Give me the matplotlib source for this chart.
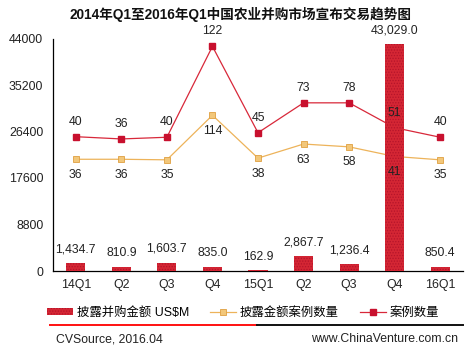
import matplotlib
matplotlib.use("Agg")
import matplotlib.pyplot as plt
from matplotlib.lines import Line2D
from matplotlib.patches import Patch
import numpy as np

quarters = ["14Q1", "Q2", "Q3", "Q4", "15Q1", "Q2", "Q3", "Q4", "16Q1"]
amounts = [1434.7, 810.9, 1603.7, 835.0, 162.9, 2867.7, 1236.4, 43029.0, 850.4]
disclosed_counts = [36, 36, 35, 114, 38, 63, 58, 41, 35]
case_counts = [40, 36, 40, 122, 45, 73, 78, 51, 40]
yticks = [0, 8800, 17600, 26400, 35200, 44000]

title = "2014年Q1至2016年Q1中国农业并购市场宣布交易趋势图"
legend_labels = ["披露并购金额 US$M", "披露金额案例数量", "案例数量"]

FAM = ["Liberation Sans", "Noto Sans CJK SC", "DejaVu Sans"]
plt.rcParams["font.family"] = FAM
plt.rcParams["hatch.linewidth"] = 0.6

BAR = "#D42634"
HATCH = "#B5142A"
RED = "#D8283A"
ORANGE = "#EDB35A"

fig = plt.figure(figsize=(4.72, 3.55), dpi=100)
ax = fig.add_axes([53 / 472, 1 - 271 / 355, 410 / 472, (271 - 38.5) / 355])
ax2 = ax.twinx()

x = np.arange(len(quarters))
stacked = np.array(disclosed_counts) + np.array(case_counts)

# lines on secondary axis (stacked line chart)
ax2.plot(x, disclosed_counts, color=ORANGE, lw=0.9, marker="s", ms=3.8,
         mfc="#F2C77A", mec="#E0A040", mew=0.6, zorder=2)
ax2.plot(x, stacked, color=RED, lw=0.9, marker="s", ms=3.8,
         mfc="#C8102E", mec="#C8102E", zorder=2)
ax2.set_ylim(-162, 250)
ax2.axis("off")

# bars on primary axis, drawn above lines
ax.set_zorder(ax2.get_zorder() + 1)
ax.patch.set_visible(False)
ax.bar(x, amounts, width=0.42, color=BAR, edgecolor=HATCH, linewidth=0,
       hatch="......", zorder=3)
ax.set_xlim(-0.5, len(quarters) - 0.5)
ax.set_ylim(0, 44000)
ax.set_yticks(yticks)
ax.set_yticklabels([str(v) for v in yticks])
ax.set_xticks(x)
ax.set_xticklabels(quarters)
ax.tick_params(axis="both", length=0, labelsize=8.9, colors="#222222")
ax.tick_params(axis="y", pad=7)
ax.tick_params(axis="x", pad=6)
for s in ["top", "right"]:
    ax.spines[s].set_visible(False)
for s in ["left", "bottom"]:
    ax.spines[s].set_color("black")
    ax.spines[s].set_linewidth(0.9)

# data labels
for xi, v in zip(x, amounts):
    ax.annotate(f"{v:,.1f}", (xi, v), xytext=(0, 9.8), textcoords="offset points",
                ha="center", va="center", fontsize=8.8, color="#222222", zorder=5)
for xi, v, lab in zip(x, stacked, case_counts):
    ax.annotate(str(lab), (xi, v), xycoords=ax2.transData, xytext=(0, 10.8),
                textcoords="offset points", ha="center", va="center",
                fontsize=8.8, color="#222222", zorder=5)
for xi, v in zip(x, disclosed_counts):
    ax.annotate(str(v), (xi, v), xycoords=ax2.transData, xytext=(0, -11.2),
                textcoords="offset points", ha="center", va="center",
                fontsize=8.8, color="#222222", zorder=5)

fig.text(241 / 472, 1 - 15 / 355, title, ha="center", va="center",
         fontsize=9.8, fontweight="bold", color="#111111")

handles = [
    Patch(facecolor=BAR, edgecolor=HATCH, linewidth=0, hatch="......"),
    Line2D([], [], color=ORANGE, lw=0.9, marker="s", ms=3.8, mfc="#F2C77A", mec="#E0A040", mew=0.6),
    Line2D([], [], color=RED, lw=0.9, marker="s", ms=3.8, mfc="#C8102E", mec="#C8102E"),
]
fig.legend(handles, legend_labels, loc="center", bbox_to_anchor=(243 / 472, 1 - 312.7 / 355),
           ncol=3, frameon=False, fontsize=8.9, handlelength=2.1, handleheight=0.5,
           handletextpad=0.3, columnspacing=1.7, borderpad=0)

# separator line
fig.add_artist(Line2D([50 / 472, 257 / 472], [1 - 324.5 / 355] * 2, color="#FF1010", lw=1.4))
fig.add_artist(Line2D([257 / 472, 463 / 472], [1 - 324.5 / 355] * 2, color="#111111", lw=1.4))

fig.text(56 / 472, 1 - 339 / 355, "CVSource, 2016.04", ha="left", va="center",
         fontsize=8.8, color="#222222")
fig.text(458 / 472, 1 - 339 / 355, "www.ChinaVenture.com.cn", ha="right", va="center",
         fontsize=8.8, color="#222222")

fig.savefig("out.png", dpi=100)
